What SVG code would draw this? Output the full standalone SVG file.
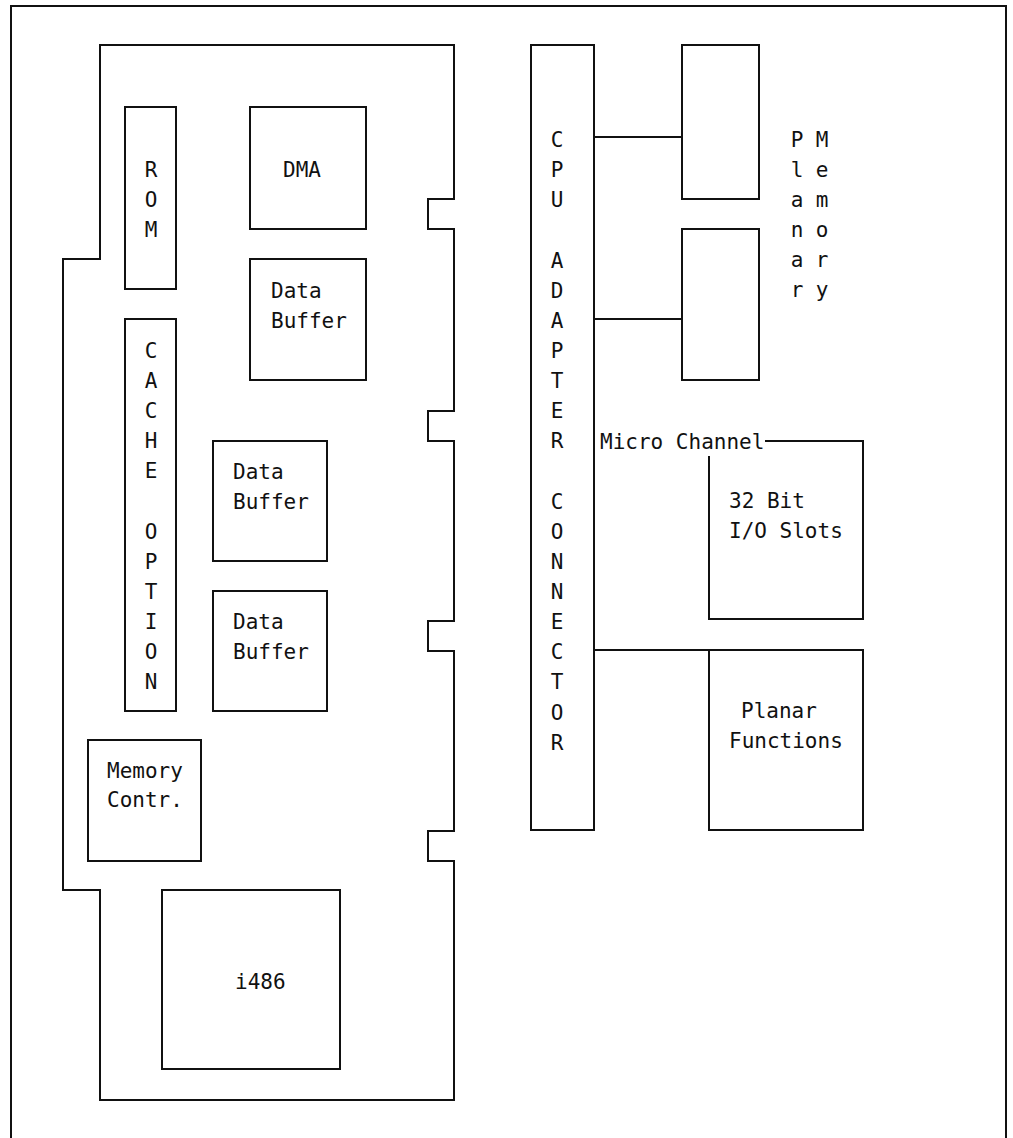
<svg xmlns="http://www.w3.org/2000/svg" width="1013" height="1138" viewBox="0 0 1013 1138">
<style>
.s{fill:none;stroke:#111;stroke-width:2}
.t{font-family:"DejaVu Sans Mono","Liberation Mono",monospace;font-size:21px;fill:#111}
.c{text-anchor:middle}
</style>
<rect width="1013" height="1138" fill="#fff"/>
<g id="frame"><path class="s" d="M11,1140 V6 H1006 V1140"/></g>
<g id="board"><path class="s" d="M100,45 H454 V199 H428 V229 H454 V411 H428 V441 H454 V621 H428 V651 H454 V831 H428 V861 H454 V1100 H100 V890 H63 V259 H100 Z"/></g>
<g id="rom"><rect class="s" x="125" y="107" width="51" height="182"/>
<text class="t c" x="151" y="177">R</text><text class="t c" x="151" y="207">O</text><text class="t c" x="151" y="237">M</text></g>
<g id="dma"><rect class="s" x="250" y="107" width="116" height="122"/><text class="t" x="283" y="177">DMA</text></g>
<g id="databuffer1"><rect class="s" x="250" y="259" width="116" height="121"/><text class="t" x="271" y="298">Data</text><text class="t" x="271" y="328">Buffer</text></g>
<g id="cache"><rect class="s" x="125" y="319" width="51" height="392"/>
<text class="t c" x="151" y="358">C</text><text class="t c" x="151" y="388">A</text><text class="t c" x="151" y="418">C</text><text class="t c" x="151" y="448">H</text><text class="t c" x="151" y="478">E</text>
<text class="t c" x="151" y="539">O</text><text class="t c" x="151" y="569">P</text><text class="t c" x="151" y="599">T</text><text class="t c" x="151" y="629">I</text><text class="t c" x="151" y="659">O</text><text class="t c" x="151" y="689">N</text></g>
<g id="databuffer2"><rect class="s" x="213" y="441" width="114" height="120"/><text class="t" x="233" y="479">Data</text><text class="t" x="233" y="509">Buffer</text></g>
<g id="databuffer3"><rect class="s" x="213" y="591" width="114" height="120"/><text class="t" x="233" y="629">Data</text><text class="t" x="233" y="659">Buffer</text></g>
<g id="memcontr"><rect class="s" x="88" y="740" width="113" height="121"/><text class="t" x="107" y="778">Memory</text><text class="t" x="107" y="807">Contr.</text></g>
<g id="i486"><rect class="s" x="162" y="890" width="178" height="179"/><text class="t" x="235" y="989">i486</text></g>
<g id="cpuconn"><rect class="s" x="531" y="45" width="63" height="785"/>
<text class="t c" x="557" y="147">C</text><text class="t c" x="557" y="177">P</text><text class="t c" x="557" y="207">U</text>
<text class="t c" x="557" y="268">A</text><text class="t c" x="557" y="298">D</text><text class="t c" x="557" y="328">A</text><text class="t c" x="557" y="358">P</text><text class="t c" x="557" y="388">T</text><text class="t c" x="557" y="418">E</text><text class="t c" x="557" y="448">R</text>
<text class="t c" x="557" y="509">C</text><text class="t c" x="557" y="539">O</text><text class="t c" x="557" y="569">N</text><text class="t c" x="557" y="599">N</text><text class="t c" x="557" y="629">E</text><text class="t c" x="557" y="659">C</text><text class="t c" x="557" y="689">T</text><text class="t c" x="557" y="720">O</text><text class="t c" x="557" y="750">R</text></g>
<g id="planarmem1"><rect class="s" x="682" y="45" width="77" height="154"/></g>
<g id="planarmem2"><rect class="s" x="682" y="229" width="77" height="151"/></g>
<g id="planarmemlabel">
<text class="t c" x="797" y="147">P</text><text class="t c" x="797" y="177">l</text><text class="t c" x="797" y="207">a</text><text class="t c" x="797" y="237">n</text><text class="t c" x="797" y="267">a</text><text class="t c" x="797" y="297">r</text>
<text class="t c" x="822" y="147">M</text><text class="t c" x="822" y="177">e</text><text class="t c" x="822" y="207">m</text><text class="t c" x="822" y="237">o</text><text class="t c" x="822" y="267">r</text><text class="t c" x="822" y="297">y</text></g>
<g id="microchannel"><text class="t" x="600" y="449">Micro Channel</text><path class="s" d="M765,441 H863 V619 H709 V456"/><text class="t" x="729" y="508">32 Bit</text><text class="t" x="729" y="538">I/O Slots</text></g>
<g id="planarfunctions"><rect class="s" x="709" y="650" width="154" height="180"/><text class="t" x="741" y="718">Planar</text><text class="t" x="729" y="748">Functions</text></g>
<g id="connectors"><path class="s" d="M594,137 H682 M594,319 H682 M594,650 H709"/></g>
</svg>
